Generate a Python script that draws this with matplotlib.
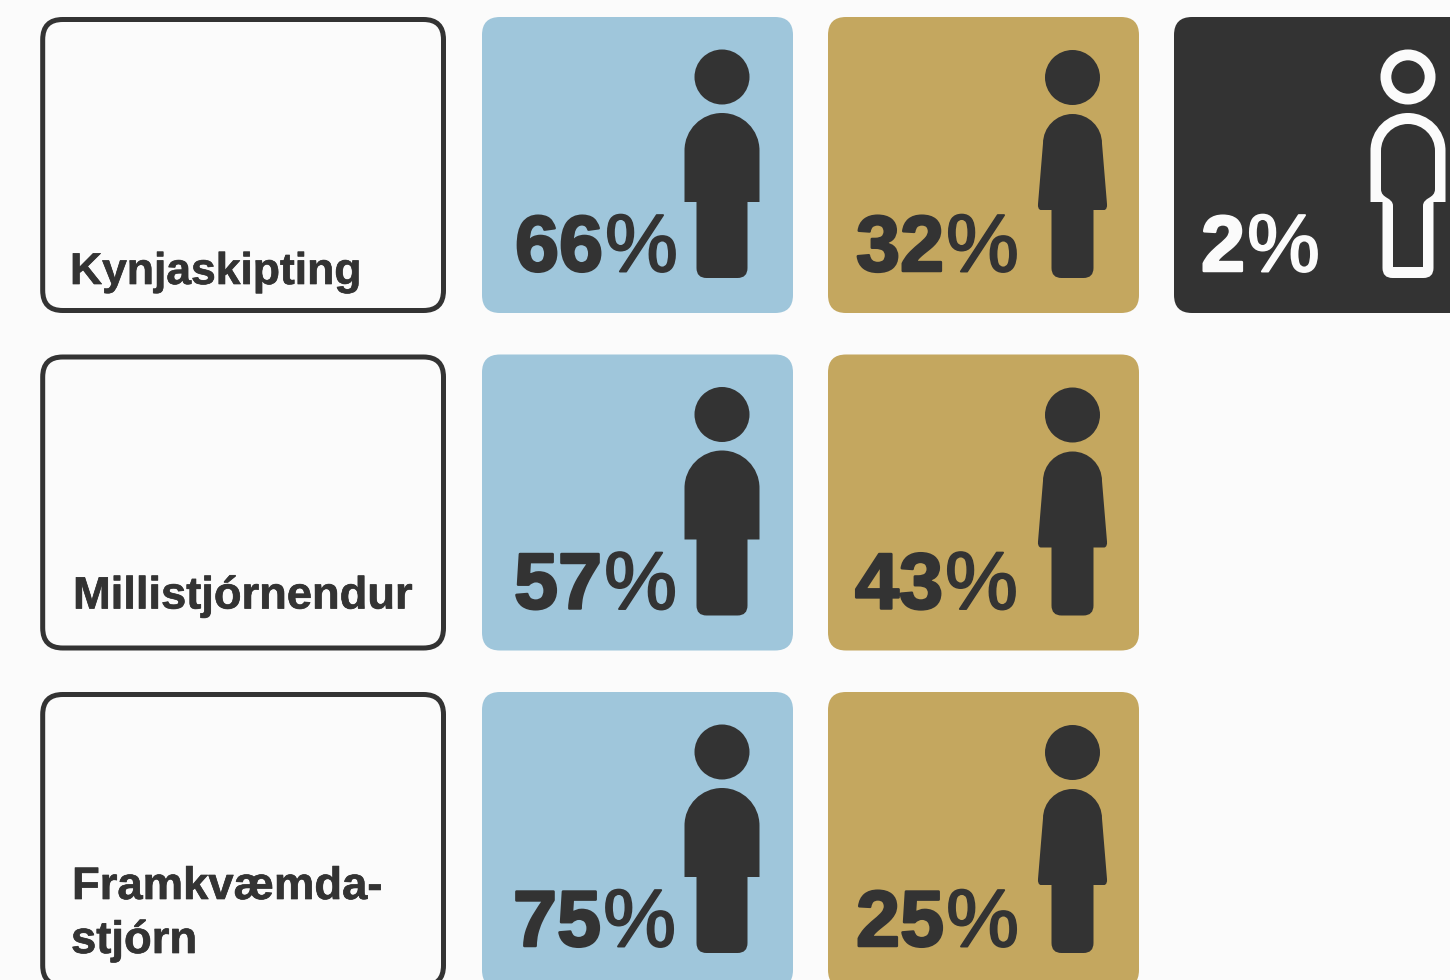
import matplotlib
matplotlib.use('Agg')
import matplotlib.pyplot as plt
import matplotlib.patheffects as pe
from matplotlib.patches import FancyBboxPatch, Circle, PathPatch
from matplotlib.path import Path

plt.rcParams['font.family'] = ['Liberation Sans', 'DejaVu Sans']

# Data
categories = ['Kynjaskipting', 'Millistjórnendur', 'Framkvæmda-\nstjórn']
karlar = [66, 57, 75]
konur = [32, 43, 25]
annad = [2, None, None]

# Colours
bg = '#FBFBFB'
dark = '#333333'
blue = '#9FC6DB'
gold = '#C4A75F'

# Layout in pixels
row_tops = [17, 354.5, 692]
card_h = 296
card_w = 311
col_x = [482, 828, 1174]
label_x = [70, 73, 72]
label_size = [32, 32.6, 32.7]
num_x = [[515, 856, 1201], [514, 855, 0], [513, 856, 0]]

fig = plt.figure(figsize=(14.5, 9.8), dpi=100, facecolor=bg)
ax = fig.add_axes([0, 0, 1, 1])
ax.set_xlim(0, 1450)
ax.set_ylim(980, 0)
ax.axis('off')

M, L, C3, Z = Path.MOVETO, Path.LINETO, Path.CURVE3, Path.CLOSEPOLY
C4 = Path.CURVE4
K = 0.5523


def card(x, y, w, h, color, r=18):
    ax.add_patch(FancyBboxPatch((x + r, y + r), w - 2 * r, h - 2 * r,
                                boxstyle=f'round,pad={r},rounding_size={r}',
                                facecolor=color, edgecolor='none'))


def draw_path(verts, codes, **kw):
    ax.add_patch(PathPatch(Path(verts, codes), **kw))


def man_body(cx, top):
    v = [(cx - 37.5, top + 89), (cx - 37.5, top + 37.5),
         (cx - 37.5, top + 37.5 - 37.5 * K), (cx - 37.5 * K, top), (cx, top),
         (cx + 37.5 * K, top), (cx + 37.5, top + 37.5 - 37.5 * K), (cx + 37.5, top + 37.5),
         (cx + 37.5, top + 89), (cx + 25.5, top + 89), (cx + 25.5, top + 155),
         (cx + 25.5, top + 165), (cx + 15.5, top + 165), (cx - 15.5, top + 165),
         (cx - 25.5, top + 165), (cx - 25.5, top + 155), (cx - 25.5, top + 89),
         (cx - 37.5, top + 89)]
    c = [M, L, C4, C4, C4, C4, C4, C4, L, L, L, C3, C3, L, C3, C3, L, Z]
    return v, c


def woman_body(cx, top):
    v = [(cx - 32, top + 96), (cx - 35, top + 95), (cx - 34.5, top + 90),
         (cx - 29.5, top + 29.5),
         (cx - 29.5, top + 29.5 - 29.5 * K), (cx - 29.5 * K, top), (cx, top),
         (cx + 29.5 * K, top), (cx + 29.5, top + 29.5 - 29.5 * K), (cx + 29.5, top + 29.5),
         (cx + 34.5, top + 90), (cx + 35, top + 95), (cx + 32, top + 96),
         (cx + 21, top + 96), (cx + 21, top + 154),
         (cx + 21, top + 164), (cx + 11, top + 164), (cx - 11, top + 164),
         (cx - 21, top + 164), (cx - 21, top + 154), (cx - 21, top + 96),
         (cx - 32, top + 96)]
    c = [M, C3, C3, L, C4, C4, C4, C4, C4, C4, L, C3, C3, L, L, C3, C3, L, C3, C3, L, Z]
    return v, c


def other_icon(cx, top, color):
    # head ring, then the body as outer contour with a reversed inner contour
    ax.add_patch(Circle((cx, top - 36), 22.1, facecolor='none', edgecolor=color, linewidth=7.8))
    v, c = man_body(cx, top)
    it = top + 11
    ir = 27
    iv = [(cx - 15, top + 154), (cx + 15, top + 154), (cx + 15, top + 93),
          (cx + 15, top + 84), (cx + 27, top + 86), (cx + 27, top + 76),
          (cx + 27, it + ir),
          (cx + 27, it + ir - ir * K), (cx + ir * K, it), (cx, it),
          (cx - ir * K, it), (cx - 27, it + ir - ir * K), (cx - 27, it + ir),
          (cx - 27, top + 76),
          (cx - 27, top + 86), (cx - 15, top + 84), (cx - 15, top + 93),
          (cx - 15, top + 154)]
    ic = [M, L, L, C4, C4, C4, L, C4, C4, C4, C4, C4, C4, L, C4, C4, C4, Z]
    draw_path(v + iv, c + ic, facecolor=color, edgecolor='none')


def pct_text(x, base, value, color):
    num = ax.text(x, base, str(value), fontsize=57, fontweight='bold', color=color,
                  ha='left', va='baseline',
                  path_effects=[pe.withStroke(linewidth=1.8, foreground=color)])
    fig.canvas.draw()
    bb = num.get_window_extent()
    ax.text(bb.x1 + 2, base + 0.5, '%', fontsize=59, color=color,
            ha='left', va='baseline',
            path_effects=[pe.withStroke(linewidth=1.4, foreground=color)])


def label_text(x, y, s, size):
    ax.text(x, y, s, fontsize=size, fontweight='bold', color=dark, va='baseline',
            path_effects=[pe.withStroke(linewidth=0.5, foreground=dark)])


# Label boxes, clipped by the bottom of the figure on the last row
for i, name in enumerate(categories):
    y = row_tops[i]
    ax.add_patch(FancyBboxPatch((42.7 + 20, y + 2.5 + 20), 400.8 - 40, 291 - 40,
                                boxstyle='round,pad=20,rounding_size=20',
                                facecolor=bg, edgecolor=dark, linewidth=3.6))
    lines = name.split('\n')
    if len(lines) == 1:
        base = y + (267 if i == 0 else 254)
        label_text(label_x[i], base, name, label_size[i])
    else:
        label_text(label_x[i], y + 207, lines[0], label_size[i])
        label_text(label_x[i] - 1, y + 261, lines[1], label_size[i])

# Cards with share and icon
for i in range(len(categories)):
    y = row_tops[i]
    base = y + 254

    card(col_x[0], y, card_w, card_h, blue)
    ax.add_patch(Circle((722, y + 60), 27.5, facecolor=dark, edgecolor='none'))
    v, c = man_body(722, y + 96)
    draw_path(v, c, facecolor=dark, edgecolor='none')
    pct_text(num_x[i][0], base, karlar[i], dark)

    card(col_x[1], y, card_w, card_h, gold)
    ax.add_patch(Circle((1072.5, y + 60.5), 27.5, facecolor=dark, edgecolor='none'))
    v, c = woman_body(1072.5, y + 97)
    draw_path(v, c, facecolor=dark, edgecolor='none')
    pct_text(num_x[i][1], base, konur[i], dark)

    if annad[i] is not None:
        card(col_x[2], y, card_w, card_h, dark)
        other_icon(1408, y + 96, bg)
        pct_text(num_x[i][2], base, annad[i], bg)

fig.savefig('out.png', dpi=100, facecolor=bg)
